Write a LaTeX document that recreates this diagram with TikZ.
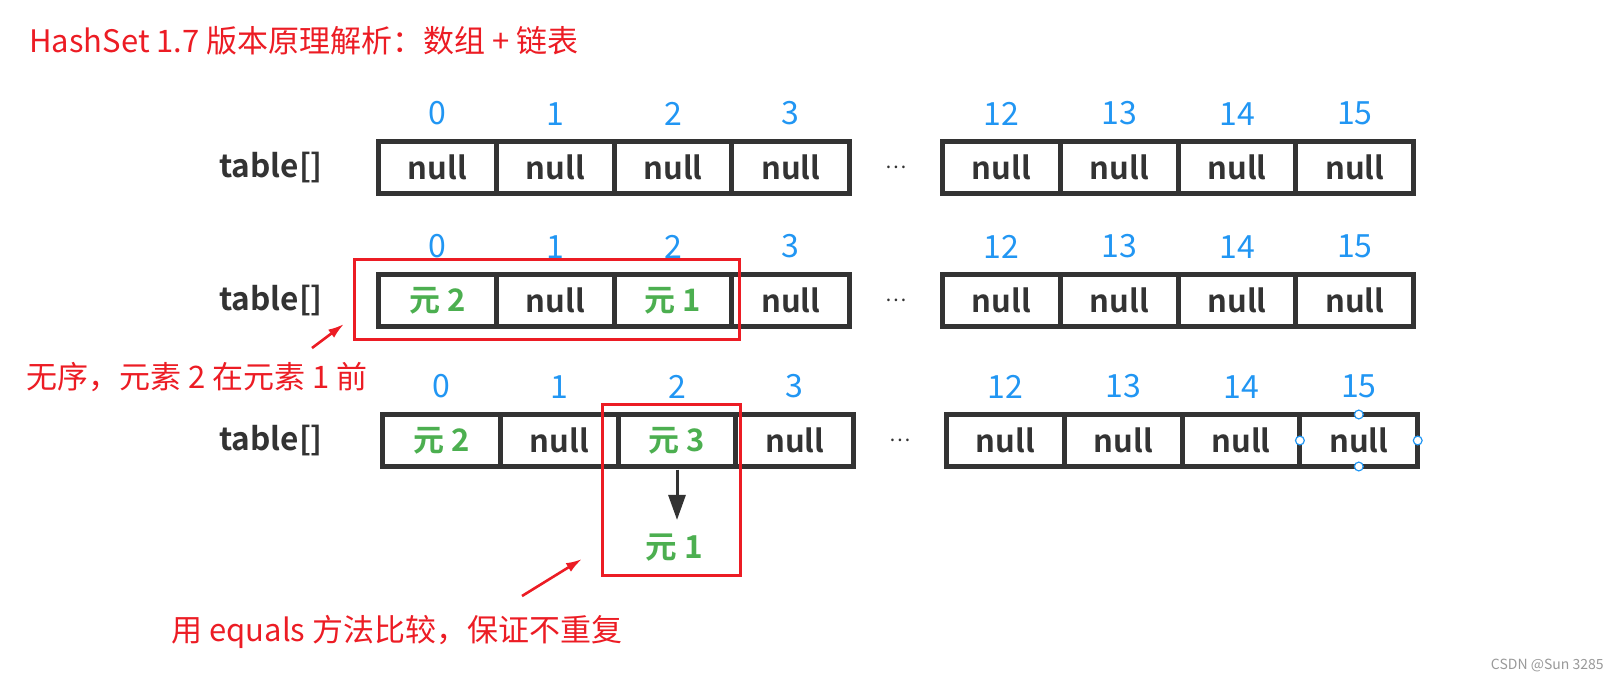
\documentclass[tikz,border=0pt]{standalone}
\usepackage{fontspec}
\setmainfont{Noto Sans CJK SC}[BoldFont={Noto Sans CJK SC Bold}]
\usepackage{xcolor}
\usepackage{tikz}
\usetikzlibrary{positioning,arrows.meta}

\definecolor{hsred}{RGB}{236,28,36}
\definecolor{hsblue}{RGB}{33,150,243}
\definecolor{hsgreen}{RGB}{76,175,80}
\definecolor{hsdark}{RGB}{51,51,51}

\tikzset{
  cell/.style={draw=hsdark, line width=2.5pt, minimum width=58.9pt, minimum height=26pt,
    inner sep=0pt, outer sep=0pt, text=hsdark, font=\fontsize{15.5}{18}\selectfont\bfseries},
  elem/.style={text=hsgreen},
  gap/.style={minimum width=46.4pt, inner sep=0pt, outer sep=0pt, text=hsdark,
    font=\fontsize{10}{12}\selectfont},
  idx/.style={inner sep=0pt, text=hsblue, font=\fontsize{16}{18}\selectfont},
  lbl/.style={inner sep=0pt, text=hsdark, font=\fontsize{15.8}{18}\selectfont\bfseries},
  note/.style={inner sep=0pt, anchor=west, text=hsred, font=\fontsize{15.5}{18}\selectfont},
  hl/.style={draw=hsred, line width=1.5pt},
  redarr/.style={draw=hsred, line width=1.3pt, -{Latex[length=8pt,width=5pt]}},
  arr/.style={draw=hsdark, line width=1.5pt, -{Triangle[length=12.5pt,width=8.5pt]}},
  handle/.style={fill=white, draw=hsblue, line width=0.6pt}
}

\begin{document}
\begin{tikzpicture}[x=0.5pt,y=-0.5pt]
\useasboundingbox (0,0) rectangle (1620,681);

\node[note](title) at (29,41) {HashSet 1.7 版本原理解析：数组 + 链表};

% first row
\node[lbl](la) at (271,167.5) {table[]};
\node[cell](a0) at (437.4,167.5) {null};
\node[cell, right=0pt of a0](a1) {null};
\node[cell, right=0pt of a1](a2) {null};
\node[cell, right=0pt of a2](a3) {null};
\node[gap, right=0pt of a3](da) {…};
\node[cell, right=0pt of da](a12) {null};
\node[cell, right=0pt of a12](a13) {null};
\node[cell, right=0pt of a13](a14) {null};
\node[cell, right=0pt of a14](a15) {null};

% second row
\node[lbl](lb) at (271,300.5) {table[]};
\node[cell, elem](b0) at (437.4,300.5) {元 2};
\node[cell, right=0pt of b0](b1) {null};
\node[cell, elem, right=0pt of b1](b2) {元 1};
\node[cell, right=0pt of b2](b3) {null};
\node[gap, right=0pt of b3](db) {…};
\node[cell, right=0pt of db](b12) {null};
\node[cell, right=0pt of b12](b13) {null};
\node[cell, right=0pt of b13](b14) {null};
\node[cell, right=0pt of b14](b15) {null};

% third row
\node[lbl](lc) at (271,440.5) {table[]};
\node[cell, elem](c0) at (441.4,440.5) {元 2};
\node[cell, right=0pt of c0](c1) {null};
\node[cell, elem, right=0pt of c1](c2) {元 3};
\node[cell, right=0pt of c2](c3) {null};
\node[gap, right=0pt of c3](dc) {…};
\node[cell, right=0pt of dc](c12) {null};
\node[cell, right=0pt of c12](c13) {null};
\node[cell, right=0pt of c13](c14) {null};
\node[cell, right=0pt of c14](c15) {null};

\foreach \r in {a,b,c}
  \foreach \i in {0,1,2,3,12,13,14,15}
    \node[idx, above=8pt of \r\i](n\r\i) {\i};

\node[lbl, text=hsgreen](e1) at (674,548) {元 1};
\draw[arr, shorten <=1.5pt, shorten >=7pt] (c2.south) -- (c2.south |- e1.north);

\draw[hl] (354.5,259.5) rectangle (739.5,339.5);
\draw[hl] (602.5,404.5) rectangle (740.5,575.8);

\node[note](n1) at (26,377) {无序，元素 2 在元素 1 前};
\coordinate (p1) at (312,348);
\coordinate (q1) at (344,324);
\draw[redarr] (p1) -- (q1);

\node[note](n2) at (171,632) {用 equals 方法比较，保证不重复};
\coordinate (p2) at (522,596);
\coordinate (q2) at (582,559);
\draw[redarr] (p2) -- (q2);

\foreach \a in {north,south,east,west}
  \filldraw[handle] (c15.\a) circle[radius=2.2pt];

\node[inner sep=0pt, anchor=east, text=black!40, font=\fontsize{7}{8}\selectfont](wm) at (1604,665) {CSDN @Sun 3285};
\end{tikzpicture}
\end{document}
